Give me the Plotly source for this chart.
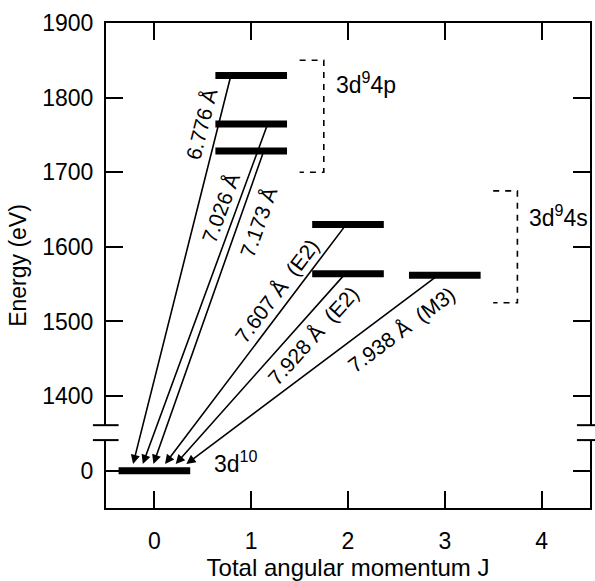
import math
import plotly.graph_objects as go

# ---------------- data ----------------
level_J = [0, 1, 1, 1, 2, 2, 3]
level_E = [0, 1829.7, 1764.6, 1728.5, 1629.8, 1563.8, 1561.9]   # eV

trans_labels = ["6.776 Å", "7.026 Å", "7.173 Å",
                "7.607 Å\u00a0 (E2)", "7.928 Å\u00a0 (E2)", "7.938 Å\u00a0 (M3)"]
trans_upper_E = [1829.7, 1764.6, 1728.5, 1629.8, 1563.8, 1561.9]
trans_upper_J = [0.79, 1.17, 1.13, 1.98, 1.97, 2.93]
trans_lower_J = [-0.22, -0.12, -0.01, 0.11, 0.22, 0.33]

config_labels = ["3d<sup>10</sup>", "3d<sup>9</sup>4p", "3d<sup>9</sup>4s"]
bracket_E_lo = [1700, 1525]
bracket_E_hi = [1850, 1675]

x_tick_vals = [0, 1, 2, 3, 4]
y_tick_E = [0, 1400, 1500, 1600, 1700, 1800, 1900]
y_tick_text = ["0", "1400", "1500", "1600", "1700", "1800", "1900"]

# ---------------- layout constants ----------------
W, H = 595, 581
ML, MR, MT, MB = 106, 3, 23, 73
XR = [-0.5, 4.5]
YR = [1250, 1900]
ZERO_POS = 1300          # axis position of E = 0 (broken axis)
BREAK_LO, BREAK_HI = 1341, 1361
BAR_HALF = 0.37
ARROW_GAP = 9            # arrow tips sit on top of the ground bar
FONT = "Liberation Sans, Arial, sans-serif"

kx = (W - ML - MR) / (XR[1] - XR[0])     # px per J
ky = (H - MT - MB) / (YR[1] - YR[0])     # px per eV


def ypos(E):
    return E if E >= 1400 else ZERO_POS + E


fig = go.Figure()

# energy levels
for J, E in zip(level_J, level_E):
    fig.add_trace(go.Scatter(x=[J - BAR_HALF, J + BAR_HALF], y=[ypos(E), ypos(E)],
                             mode="lines", line=dict(color="black", width=7),
                             hoverinfo="skip", showlegend=False))

# dashed brackets
bracket_x = [(1.5, 1.75), (3.5, 3.75)]
for (x0, x1), lo, hi in zip(bracket_x, bracket_E_lo, bracket_E_hi):
    fig.add_trace(go.Scatter(x=[x0, x1, x1, x0], y=[hi, hi, lo, lo], mode="lines",
                             line=dict(color="black", width=1.6, dash="6px,6px"),
                             hoverinfo="skip", showlegend=False))

annotations = []
# transitions (arrows) + rotated labels
label_frac = [0.136, 0.264, 0.209, 0.314, 0.263, 0.196]
label_perp = [17, 15, -19, 15, -17, -22]
for i, lab in enumerate(trans_labels):
    xu, yu = trans_upper_J[i], ypos(trans_upper_E[i])
    xt, yt = trans_lower_J[i], ypos(0) + ARROW_GAP
    annotations.append(dict(x=xt, y=yt, ax=xu, ay=yu, xref="x", yref="y",
                            axref="x", ayref="y", text="", showarrow=True,
                            arrowhead=2, arrowsize=1.15, arrowwidth=1.6,
                            arrowcolor="black"))
    dxp = (xu - xt) * kx
    dyp = (yu - yt) * ky
    L = math.hypot(dxp, dyp)
    ux, uy = dxp / L, dyp / L
    ang = math.degrees(math.atan2(dyp, dxp))
    f = label_frac[i]
    p = label_perp[i]
    annotations.append(dict(x=xu + f * (xt - xu), y=yu + f * (yt - yu),
                            xref="x", yref="y", text=lab, showarrow=False,
                            textangle=-ang, xshift=-p * uy, yshift=p * ux,
                            font=dict(family=FONT, size=21, color="black")))

# configuration labels
config_pos = [(0.60, ypos(0), 9), (1.86, 1819, 0), (3.85, 1641, 0)]
for lab, (x, y, ys) in zip(config_labels, config_pos):
    annotations.append(dict(x=x, y=y, xref="x", yref="y", text=lab, showarrow=False,
                            xanchor="left", yanchor="middle", yshift=ys,
                            font=dict(family=FONT, size=23, color="black")))

# broken axis: white gaps + break marks
shapes = []
for xc in (0.0, 1.0):
    shapes.append(dict(type="rect", xref="paper", yref="y", x0=xc - 0.012, x1=xc + 0.012,
                       y0=BREAK_LO, y1=BREAK_HI, fillcolor="white",
                       line=dict(width=0), layer="above"))
for xc in (0.0, 1.0):
    for yb in (BREAK_LO, BREAK_HI):
        shapes.append(dict(type="line", xref="paper", yref="y", x0=xc - 0.027, x1=xc + 0.026,
                           y0=yb, y1=yb, line=dict(color="black", width=2), layer="above"))

axis_common = dict(showline=True, linewidth=2, linecolor="black", mirror="ticks",
                   ticks="inside", ticklen=17, tickwidth=2, tickcolor="black",
                   showgrid=False, zeroline=False,
                   tickfont=dict(family=FONT, size=23, color="black"))

fig.update_layout(
    width=W, height=H,
    margin=dict(l=ML, r=MR, t=MT, b=MB),
    plot_bgcolor="white", paper_bgcolor="white",
    xaxis=dict(range=XR, tickvals=x_tick_vals, ticklabelstandoff=11,
               title=dict(text="Total angular momentum J", standoff=7,
                          font=dict(family=FONT, size=24, color="black")),
               **axis_common),
    yaxis=dict(range=YR, tickvals=[ypos(e) for e in y_tick_E], ticktext=y_tick_text,
               ticklabelstandoff=6,
               title=dict(text="Energy (eV)", standoff=9,
                          font=dict(family=FONT, size=23, color="black")),
               **axis_common),
    annotations=annotations,
    shapes=shapes,
    showlegend=False,
)

fig.write_html("out.html")
